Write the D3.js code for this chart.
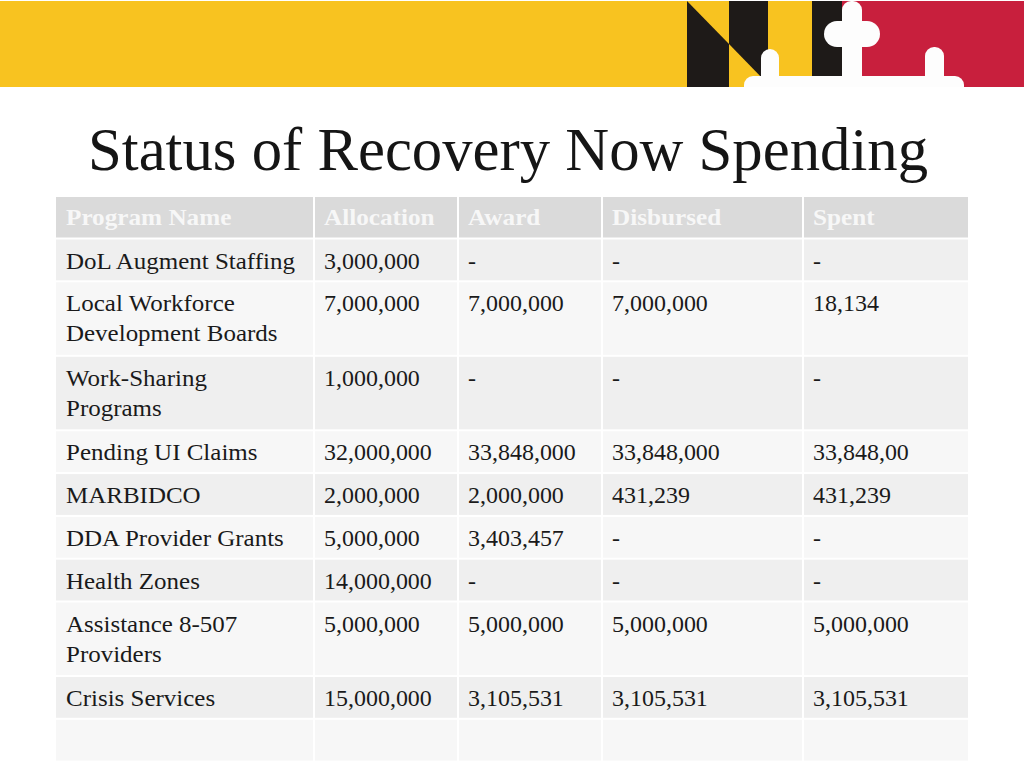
<!DOCTYPE html>
<html>
<head>
<meta charset="utf-8">
<script src="https://cdn.jsdelivr.net/npm/d3@7"></script>
<style>
  html, body { margin: 0; padding: 0; background: #ffffff; }
  svg { display: block; }
</style>
</head>
<body>
<script>
// ---------- data ----------
const title = "Status of Recovery Now Spending";
const columns = ["Program Name", "Allocation", "Award", "Disbursed", "Spent"];
const programs = [
  "DoL Augment Staffing",
  "Local Workforce\nDevelopment Boards",
  "Work-Sharing\nPrograms",
  "Pending UI Claims",
  "MARBIDCO",
  "DDA Provider Grants",
  "Health Zones",
  "Assistance 8-507\nProviders",
  "Crisis Services",
  ""
];
const allocation = ["3,000,000", "7,000,000", "1,000,000", "32,000,000", "2,000,000", "5,000,000", "14,000,000", "5,000,000", "15,000,000", ""];
const award      = ["-", "7,000,000", "-", "33,848,000", "2,000,000", "3,403,457", "-", "5,000,000", "3,105,531", ""];
const disbursed  = ["-", "7,000,000", "-", "33,848,000", "431,239", "-", "-", "5,000,000", "3,105,531", ""];
const spent      = ["-", "18,134", "-", "33,848,00", "431,239", "-", "-", "5,000,000", "3,105,531", ""];

// ---------- layout ----------
const W = 1024, H = 768;
const svg = d3.select("body").append("svg").attr("width", W).attr("height", H);
svg.append("rect").attr("width", W).attr("height", H).attr("fill", "#ffffff");

// ---------- banner ----------
const YEL = "#f8c320", BLK = "#1e1a18", RED = "#c81f3d", WHT = "#fdfdfd";
const ban = svg.append("g");
const bTop = 1, bBot = 87;
ban.append("rect").attr("x", 0).attr("y", bTop).attr("width", 842).attr("height", bBot - bTop).attr("fill", YEL);
ban.append("rect").attr("x", 842).attr("y", bTop).attr("width", W - 842).attr("height", bBot - bTop).attr("fill", RED);
// pales with counterchanged bend
ban.append("path").attr("d", "M687,1 L729,44 L729,87 L687,87 Z").attr("fill", BLK);
ban.append("path").attr("d", "M729,1 L768,1 L768,84 L729,44 Z").attr("fill", BLK);
ban.append("rect").attr("x", 812).attr("y", bTop).attr("width", 30).attr("height", bBot - bTop).attr("fill", BLK);
// white cross bottony shapes
ban.append("rect").attr("x", 842).attr("y", 1).attr("width", 20).attr("height", 90).attr("rx", 9).attr("fill", WHT);
ban.append("rect").attr("x", 824).attr("y", 21).attr("width", 56).attr("height", 26).attr("rx", 13).attr("fill", WHT);
ban.append("rect").attr("x", 761).attr("y", 49).attr("width", 18).attr("height", 40).attr("rx", 9).attr("fill", WHT);
ban.append("rect").attr("x", 925).attr("y", 47).attr("width", 19).attr("height", 42).attr("rx", 9).attr("fill", WHT);
ban.append("rect").attr("x", 744).attr("y", 76).attr("width", 220).attr("height", 20).attr("rx", 9).attr("fill", WHT);
ban.append("rect").attr("x", 0).attr("y", 87).attr("width", W).attr("height", 12).attr("fill", "#ffffff");

// ---------- title ----------
svg.append("text")
  .attr("x", 88).attr("y", 170)
  .attr("font-family", "'Liberation Serif', 'DejaVu Serif', serif")
  .attr("font-size", 62)
  .attr("fill", "#151515")
  .attr("textLength", 840)
  .attr("lengthAdjust", "spacingAndGlyphs")
  .text(title);

// ---------- table ----------
const colEdges = [56, 314, 458, 602, 803, 968];
const colX = d3.scaleOrdinal().domain(columns).range(colEdges.slice(0, 5));
const colW = d3.scaleOrdinal().domain(columns).range(colEdges.slice(1).map((e, i) => e - colEdges[i]));

const rows = programs.map((p, i) => ({
  cells: [p, allocation[i], award[i], disbursed[i], spent[i]],
  lines: p.split("\n").length
}));
const lineH = 30, gap = 2;
const heights = rows.map(r => r.lines === 1 ? 40.8 : 72.5);
const headerTop = 197, headerH = 40.5;
const tops = [];
let yy = headerTop + headerH + gap;
heights.forEach(h => { tops.push(yy); yy += h + gap; });
const yScale = d3.scaleOrdinal().domain(d3.range(rows.length)).range(tops);

const FONT = "'Liberation Serif', 'DejaVu Serif', serif";
const FS = 22.5;

function cellRect(g, col, y, h, fill) {
  const i = columns.indexOf(col);
  const x0 = colX(col) + (i > 0 ? 1 : 0);
  const x1 = colX(col) + colW(col) - (i < 4 ? 1 : 0);
  g.append("rect").attr("x", x0).attr("y", y).attr("width", x1 - x0).attr("height", h).attr("fill", fill);
}

const tbl = svg.append("g");
// header
columns.forEach(c => cellRect(tbl, c, headerTop, headerH, "#dadada"));
tbl.selectAll("text.hdr").data(columns).join("text")
  .attr("class", "hdr")
  .attr("x", c => colX(c) + 10)
  .attr("y", headerTop + 28)
  .attr("font-family", FONT).attr("font-size", FS).attr("font-weight", "bold")
  .attr("fill", "#f7f7f7")
  .attr("data-stretch", 1.12)
  .text(c => c);

// body
rows.forEach((r, i) => {
  const y = yScale(i);
  const fill = i % 2 === 0 ? "#efefef" : "#f7f7f7";
  columns.forEach((c, j) => {
    cellRect(tbl, c, y, heights[i], fill);
    const lines = r.cells[j].split("\n");
    lines.forEach((ln, k) => {
      if (!ln) return;
      tbl.append("text")
        .attr("class", "cell")
        .attr("x", colX(c) + 10)
        .attr("y", y + 29 + k * lineH)
        .attr("font-family", FONT).attr("font-size", FS)
        .attr("fill", "#1a1a1a")
        .attr("data-stretch", j === 0 ? 1.11 : 1.065)
        .text(ln);
    });
  });
});

// horizontal stretch to mimic the wider Garamond face
tbl.selectAll("text").each(function () {
  const len = this.getComputedTextLength();
  const k = +this.getAttribute("data-stretch");
  if (len > 0 && k) {
    d3.select(this).attr("textLength", len * k).attr("lengthAdjust", "spacingAndGlyphs");
  }
});
</script>
</body>
</html>
